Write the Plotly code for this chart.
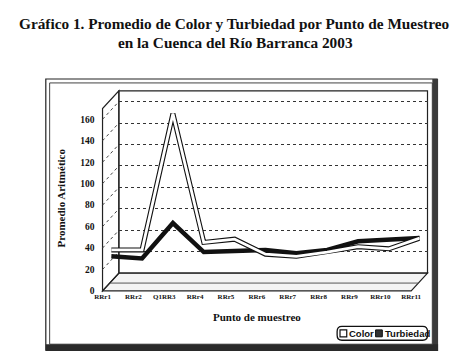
import plotly.graph_objects as go

# ---- data ----
categories = ["RRr1", "RRr2", "Q1RR3", "RRr4", "RRr5", "RRr6", "RRr7", "RRr8", "RRr9", "RRr10", "RRr11"]
color_vals = [30, 30, 157, 37, 40, 26, 24, 28, 33, 31, 41]
turbiedad_vals = [24, 22, 55, 28, 29, 30, 27, 30, 38, 39, 41]
y_ticks = [0, 20, 40, 60, 80, 100, 120, 140, 160]
series_names = ["Color", "Turbiedad"]
title_lines = ["Gráfico 1. Promedio de Color y Turbiedad por Punto de Muestreo",
               "en la Cuenca del Río Barranca 2003"]

W, H = 467, 355
YMAX = 170
SERIF = "Liberation Serif"
SANS = "Liberation Sans"

def fx(px):
    return px / W

def fy(py):
    return 1 - py / H

# pixel geometry of pseudo-3D box
BACK = dict(x0=107, x1=428, yb=269, yt=84)
FRONT = dict(x0=90, x1=411, yb=287, yt=102)
MID = dict(x0=99, x1=420, yb=278, yt=93)

def dom(g):
    return [fx(g["x0"]), fx(g["x1"])], [fy(g["yb"]), fy(g["yt"])]

bx, by = dom(BACK)
frx, fry = dom(FRONT)
mx, my = dom(MID)

idx = list(range(len(categories)))

fig = go.Figure()

# series ribbons (mid depth axes)
fig.add_trace(go.Scatter(x=idx, y=turbiedad_vals, xaxis="x3", yaxis="y3", mode="lines",
                         line=dict(color="#111", width=4.5), showlegend=False, hoverinfo="skip"))
fig.add_trace(go.Scatter(x=idx, y=color_vals, xaxis="x3", yaxis="y3", mode="lines",
                         line=dict(color="#111", width=5), showlegend=False, hoverinfo="skip"))
fig.add_trace(go.Scatter(x=idx, y=color_vals, xaxis="x3", yaxis="y3", mode="lines",
                         line=dict(color="white", width=2.8), showlegend=False, hoverinfo="skip"))

shapes = []

# chart outer frame with shadow
shapes.append(dict(type="rect", xref="paper", yref="paper", x0=fx(31), x1=fx(438), y0=fy(347), y1=fy(72),
                   line=dict(color="#222", width=1.2), fillcolor="white", layer="below"))
shapes.append(dict(type="rect", xref="paper", yref="paper", x0=fx(35), x1=fx(433), y0=fy(341), y1=fy(76),
                   line=dict(color="#444", width=1), layer="below"))
shapes.append(dict(type="rect", xref="paper", yref="paper", x0=fx(433), x1=fx(439), y0=fy(348), y1=fy(72),
                   line=dict(width=0), fillcolor="#3a3a3a", layer="below"))
shapes.append(dict(type="rect", xref="paper", yref="paper", x0=fx(31), x1=fx(439), y0=fy(348), y1=fy(341),
                   line=dict(width=0), fillcolor="#2a2a2a", layer="below"))

# back wall outline
shapes.append(dict(type="rect", xref="paper", yref="paper", x0=bx[0], x1=bx[1], y0=by[0], y1=by[1],
                   line=dict(color="#222", width=1.2), layer="below"))

def ppath(pts):
    return "M " + " L ".join(f"{fx(a):.5f},{fy(b):.5f}" for a, b in pts) + " Z"

# floor
shapes.append(dict(type="path", xref="paper", yref="paper",
                   path=ppath([(FRONT["x0"], FRONT["yb"]), (FRONT["x1"], FRONT["yb"]),
                               (BACK["x1"], BACK["yb"]), (BACK["x0"], BACK["yb"])]),
                   line=dict(color="#222", width=1.2), fillcolor="rgba(240,240,240,0.7)", layer="below"))
shapes.append(dict(type="line", xref="paper", yref="paper", x0=fx(FRONT["x0"] + 8), x1=fx(FRONT["x1"] + 8),
                   y0=fy(279), y1=fy(279), line=dict(color="#555", width=1), layer="below"))
# left wall
shapes.append(dict(type="path", xref="paper", yref="paper",
                   path=ppath([(FRONT["x0"], FRONT["yb"]), (FRONT["x0"], FRONT["yt"]),
                               (BACK["x0"], BACK["yt"]), (BACK["x0"], BACK["yb"])]),
                   line=dict(color="#222", width=1.2), layer="below"))

# side-wall diagonal grid stubs
for v in y_ticks[1:]:
    yf = FRONT["yb"] - v * (FRONT["yb"] - FRONT["yt"]) / YMAX
    yb_ = BACK["yb"] - v * (BACK["yb"] - BACK["yt"]) / YMAX
    shapes.append(dict(type="line", xref="paper", yref="paper", x0=fx(FRONT["x0"]), x1=fx(BACK["x0"]),
                       y0=fy(yf), y1=fy(yb_), line=dict(color="#444", width=1, dash="dot"), layer="below"))

# manual legend box (rounded)
LX0, LX1, LY0, LY1 = 334, 428, 323, 337
r = 5
legend_path = (f"M {fx(LX0 + r)},{fy(LY0)} L {fx(LX1 - r)},{fy(LY0)} "
               f"Q {fx(LX1)},{fy(LY0)} {fx(LX1)},{fy(LY0 + r)} L {fx(LX1)},{fy(LY1 - r)} "
               f"Q {fx(LX1)},{fy(LY1)} {fx(LX1 - r)},{fy(LY1)} L {fx(LX0 + r)},{fy(LY1)} "
               f"Q {fx(LX0)},{fy(LY1)} {fx(LX0)},{fy(LY1 - r)} L {fx(LX0)},{fy(LY0 + r)} "
               f"Q {fx(LX0)},{fy(LY0)} {fx(LX0 + r)},{fy(LY0)} Z")
shapes.append(dict(type="path", xref="paper", yref="paper", path=legend_path,
                   line=dict(color="#111", width=1.3), fillcolor="white"))
shapes.append(dict(type="rect", xref="paper", yref="paper", x0=fx(337), x1=fx(344), y0=fy(333.5), y1=fy(326.5),
                   line=dict(color="#111", width=1.2), fillcolor="white"))
shapes.append(dict(type="rect", xref="paper", yref="paper", x0=fx(374), x1=fx(381), y0=fy(333.5), y1=fy(326.5),
                   line=dict(color="#111", width=1), fillcolor="#333"))

annotations = [
    dict(text="<b>" + title_lines[0] + "</b>",
         xref="paper", yref="paper", x=fx(227), y=fy(16), xanchor="center", yanchor="middle",
         showarrow=False, font=dict(family=SERIF, size=15.3, color="#111")),
    dict(text="<b>" + title_lines[1] + "</b>",
         xref="paper", yref="paper", x=fx(228), y=fy(35), xanchor="center", yanchor="middle",
         showarrow=False, font=dict(family=SERIF, size=15.3, color="#111")),
    dict(text="<b>Promedio Aritmético</b>", xref="paper", yref="paper", x=fx(47), y=fy(193),
         xanchor="center", yanchor="middle",
         textangle=-90, showarrow=False, font=dict(family=SERIF, size=11, color="#111")),
    dict(text="<b>Punto de muestreo</b>", xref="paper", yref="paper", x=fx(251), y=fy(313),
         xanchor="center", yanchor="middle",
         showarrow=False, font=dict(family=SERIF, size=11, color="#111")),
    dict(text="<b>" + series_names[0] + "</b>", xref="paper", yref="paper", x=fx(344.5), y=fy(330),
         xanchor="left", yanchor="middle", showarrow=False, font=dict(family=SANS, size=9.5, color="#111")),
    dict(text="<b>" + series_names[1] + "</b>", xref="paper", yref="paper", x=fx(381.5), y=fy(330),
         xanchor="left", yanchor="middle", showarrow=False, font=dict(family=SANS, size=9.5, color="#111")),
]

fig.update_layout(
    width=W, height=H,
    margin=dict(l=0, r=0, t=0, b=0),
    paper_bgcolor="white", plot_bgcolor="rgba(0,0,0,0)",
    showlegend=False,
    xaxis=dict(domain=bx, range=[0, len(categories) - 1], showgrid=False, zeroline=False,
               showticklabels=False, showline=False, anchor="y"),
    yaxis=dict(domain=by, range=[0, YMAX], tickvals=y_ticks[1:], showgrid=True,
               gridcolor="#333", griddash="dot", gridwidth=1, zeroline=False,
               showticklabels=False, showline=False, anchor="x"),
    xaxis2=dict(domain=frx, range=[0, len(categories) - 1], anchor="y2",
                tickvals=idx, ticktext=categories, showgrid=False, zeroline=False, showline=False,
                tickfont=dict(family=SERIF, size=7, color="#111", weight="bold"), ticks=""),
    yaxis2=dict(domain=fry, range=[0, YMAX], anchor="x2", tickvals=y_ticks,
                showgrid=False, zeroline=False, showline=False, ticks="",
                tickfont=dict(family=SERIF, size=9.5, color="#111", weight="bold"), ticklabelstandoff=7),
    xaxis3=dict(domain=mx, range=[0, len(categories) - 1], anchor="y3", visible=False),
    yaxis3=dict(domain=my, range=[0, YMAX], anchor="x3", visible=False),
    shapes=shapes,
    annotations=annotations,
)

# dummy traces so subplots x/y and x2/y2 are drawn
fig.add_trace(go.Scatter(x=[None], y=[None], xaxis="x", yaxis="y", showlegend=False))
fig.add_trace(go.Scatter(x=[None], y=[None], xaxis="x2", yaxis="y2", showlegend=False))

fig.write_html("out.html")
